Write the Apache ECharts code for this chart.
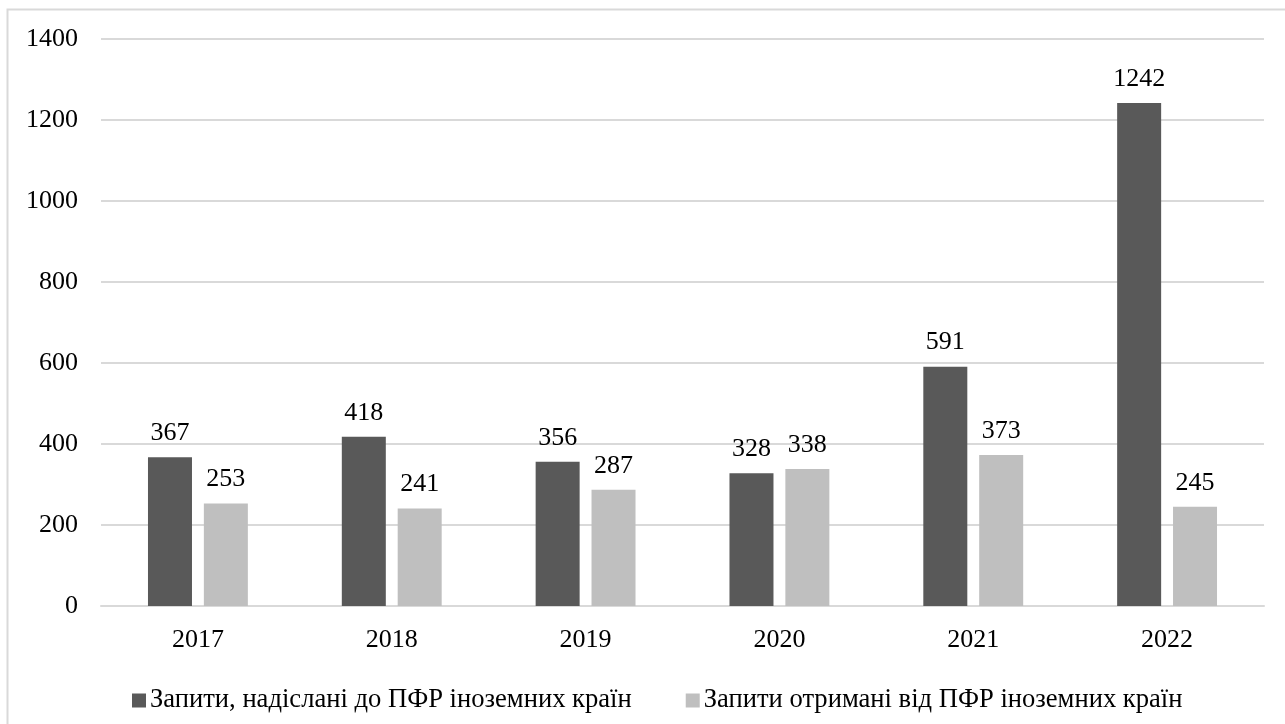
<!DOCTYPE html>
<html>
<head>
<meta charset="utf-8">
<script src="https://cdn.jsdelivr.net/npm/echarts@6/dist/echarts.min.js"></script>
<style>
html,body{margin:0;padding:0;background:#fff;}
#chart{width:1285px;height:724px;}
</style>
</head>
<body>
<div id="chart"></div>
<script>
const categories = ['2017', '2018', '2019', '2020', '2021', '2022'];
const sentRequests = [367, 418, 356, 328, 591, 1242];
const receivedRequests = [253, 241, 287, 338, 373, 245];
const seriesNames = ['Запити, надіслані до ПФР іноземних країн', 'Запити отримані від ПФР іноземних країн'];

const font = '"Liberation Serif", "Times New Roman", serif';
const fs = 26;
const chart = echarts.init(document.getElementById('chart'));
chart.setOption({
  animation: false,
  backgroundColor: '#fff',
  graphic: [{
    type: 'rect',
    shape: { x: 7.5, y: 9.5, width: 1300, height: 760 },
    style: { fill: 'none', stroke: '#d9d9d9', lineWidth: 2 },
    silent: true
  }],
  grid: { left: 101, right: 21, top: 39, bottom: 118, containLabel: false },
  legend: {
    left: 127,
    top: 682,
    itemWidth: 14,
    itemHeight: 14,
    itemGap: 54,
    icon: 'rect',
    textStyle: { fontFamily: font, fontSize: 26.6, color: '#000', padding: [0, 0, 0, -1] },
    data: seriesNames
  },
  xAxis: {
    type: 'category',
    data: categories,
    axisLine: { lineStyle: { color: '#d9d9d9', width: 2 } },
    axisTick: { show: false },
    axisLabel: { fontFamily: font, fontSize: fs, color: '#000', margin: 21 }
  },
  yAxis: {
    type: 'value',
    min: 0,
    max: 1400,
    interval: 200,
    axisLine: { show: false },
    axisTick: { show: false },
    splitLine: { lineStyle: { color: '#d9d9d9', width: 2 } },
    axisLabel: { fontFamily: font, fontSize: fs, color: '#000', margin: 23, formatter: v => String(v) }
  },
  series: [
    {
      name: seriesNames[0],
      type: 'bar',
      data: sentRequests,
      barWidth: 44,
      barGap: '27%',
      itemStyle: { color: '#595959' },
      label: { show: true, position: 'top', distance: 11, fontFamily: font, fontSize: fs, color: '#000' }
    },
    {
      name: seriesNames[1],
      type: 'bar',
      data: receivedRequests,
      barWidth: 44,
      barGap: '27%',
      itemStyle: { color: '#bfbfbf' },
      label: { show: true, position: 'top', distance: 11, fontFamily: font, fontSize: fs, color: '#000' }
    }
  ]
});
</script>
</body>
</html>
